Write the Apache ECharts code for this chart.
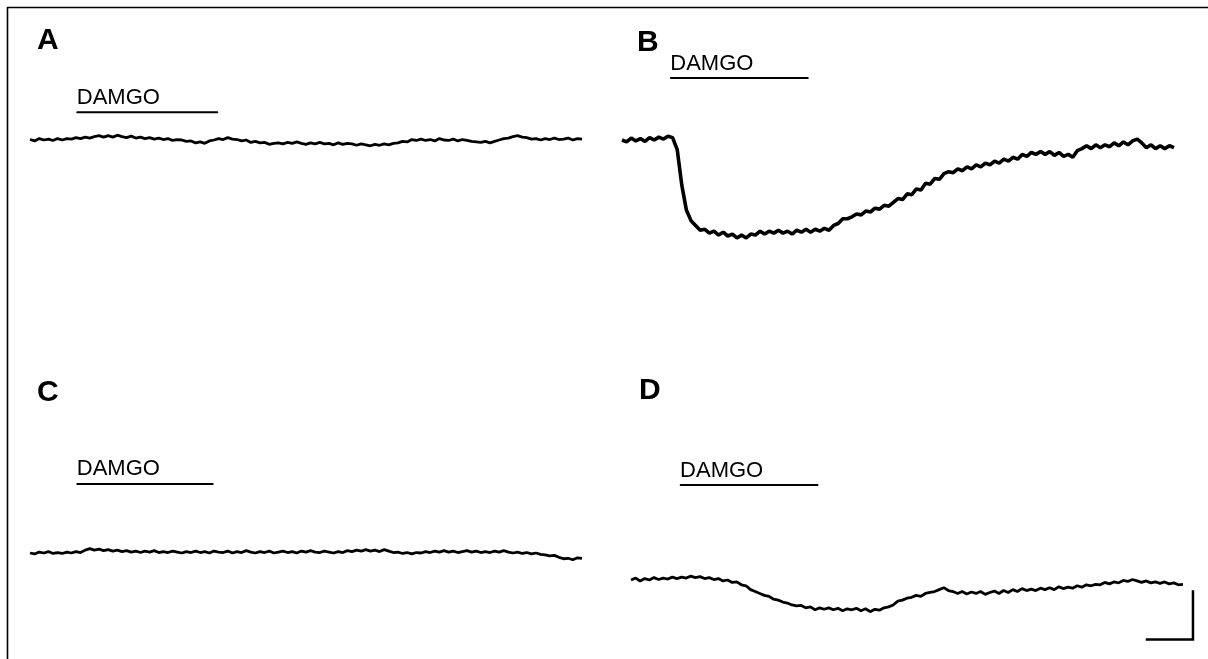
<!DOCTYPE html>
<html>
<head>
<meta charset="utf-8">
<script src="https://cdn.jsdelivr.net/npm/echarts@6/dist/echarts.min.js"></script>
<style>
  html, body { margin: 0; padding: 0; background: #fff; }
  #chart { width: 1208px; height: 659px; }
</style>
</head>
<body>
<div id="chart"></div>
<script>
// ---- data (time in s, sampled every 6 s; current in pA relative to baseline) ----
const sampleStep = 6;
const panelLabels = ['A', 'B', 'C', 'D'];
const drugName = 'DAMGO';
const damgoStart = [61, 63, 61, 64];
const damgoEnd = [245, 243, 239, 244];
const damgoLevel = [29, 64.5, 72, 99];

const traceA = [
  0.5, -1, 1.5, 0, 1, -0.5, 1.5,
  0, 1.5, 1, 2.5, 1.5, 3, 2, 3.5, 4.5, 3,
  4.5, 3, 5, 3.5, 2.5, 4, 2, 3, 1.5, 2.5,
  1, 2, 0.5, 1.5, -0.5, 0.5, 0,
  -1.5, -1, -3, -2, -3.5,
  -1, 0, 1.5, 0.5, 2.5,
  1, 0.5, -1, 0, -2.5, -1.5,
  -3, -2.5, -4.5, -3.5,
  -3, -4, -2.5, -3.5, -2, -3.5,
  -4.5, -3, -4, -2.5, -4, -3.5, -5, -3, -4.5, -3.5, -4,
  -5.5, -4, -5, -6, -4.5, -5.5, -4, -5,
  -3.5, -3, -1.5, -2, 0.5, -0.5,
  1, -0.5, 0.5, -1, 1.5, 0, -0.5, 1, -1, 0.5, -0.5,
  -1.5, -2, -2.5, -1.5, -3,
  -1.5, 0, 1.5, 2, 3.5, 4.5,
  3, 2.5, 1, 1.5,
  0, 1.5, 0.5, 2, 0.5, 1, 2, 0, 1.5, 1
];

const traceB = [
  0, -2, 2, -1, 1.5, -1.5, 2.5, 0, 3, 1, 4, 2.5,
  -10, -47, -73, -84, -89, -94, -93, -97, -95, -99,
  -96, -100, -98, -102, -99, -102, -98, -99, -95, -98,
  -95, -97, -94, -97, -95, -98, -94, -96, -93, -96,
  -93, -95, -92, -94, -89, -87, -82, -82, -80, -77,
  -78, -74, -75, -71, -72, -68, -69, -65, -61, -62,
  -56, -57, -51, -52, -45, -46, -40, -41, -35, -33,
  -34, -30, -32, -28, -30, -26, -28, -24, -26, -22,
  -24, -20, -22, -18, -20, -15, -17, -13, -15, -12,
  -15, -12, -16, -13, -17, -15, -18, -11, -9, -6,
  -9, -5, -8, -5, -7, -3, -6, -2, -5, -1,
  1, -3, -8, -5, -9, -6, -9, -6, -8
];

const traceC = [
  0, -1, 1, 0, 1.5, -0.5, 0.5, -0.5, 1, 0,
  1.5, 0.5, 3, 4.5, 3, 4, 2.5, 3.5, 2, 3,
  1.5, 2.5, 1, 2, 0.5, 2, 1, 2.5, 0.5, 1.5,
  0.5, 2, 1, 0, 1.5, 0.5, 2, 0.5, 1.5, 0,
  2, 1, 0.5, 2, 0, 1.5, 0.5, 2.5, 1, 0,
  1.5, 0.5, 2, 0, 1, 2, 0.5, 1.5, 0, 2,
  1, 2.5, 1, 0.5, 2, 1, 0, 1.5, 0.5, 2.5,
  1.5, 3, 2, 3.5, 2, 3, 1.5, 3.5, 2, 0.5,
  1, -0.5, 0.5, -1, 0.5, 0, 1.5, 0.5, 2, 1,
  2.5, 1, 2, 0.5, 1.5, 2.5, 1, 2, 0.5, 1.5,
  0.5, 2, 1, 2.5, 1, 0, 1, -0.5, 0.5, -1,
  0, -1.5, -2, -3, -2.5, -4.5, -6, -5.5, -7, -5, -5.5
];

const traceD = [
  0, 2, -1, 1.5, 0, 2.5, 0.5, 2, 1, 3,
  1.5, 3, 2, 4, 2.5, 3.5, 1.5, 2.5, 0.5, 1.5,
  -1, 0, -2.5, -2, -5, -6, -10, -12, -14, -16,
  -17, -20, -21, -23, -24, -26, -27, -26.5, -29, -28,
  -31, -29, -30.5, -29, -31, -29.5, -32, -30, -31, -29.5,
  -32, -30, -33, -30.5, -31.5, -29, -28, -26, -22, -21,
  -19, -18, -16, -17, -14, -13, -12, -10, -8, -11,
  -12, -14, -12, -14.5, -12.5, -14, -12, -15, -13, -11.5,
  -14, -11, -13, -10, -12, -9, -11, -9.5, -11, -8.5,
  -10, -8, -10, -7, -9, -7.5, -8.5, -6, -7.5, -5,
  -6, -4.5, -5, -2.5, -4, -2, -3, -0.5, -1.5, 0.5,
  -1, -2.5, -1, -3, -2, -3.5, -2, -4, -3, -5, -4.5
];

// scale bar: 60 s x 50 pA (drawn in panel D)
const scaleBarTime = [673, 733, 733];
const scaleBarCurrent = [-62, -62, -12];

const traces = [traceA, traceB, traceC, traceD];

// ---- layout ----
const xMax = 745;
const pxPerSec = 552 / 720;
const pxPerPA = 0.96;
const gridLeft = [30, 622, 30, 631];
const baselinePx = [140, 140, 553, 580];
const yMin = [-120, -120, -80, -80];
const yMax = 120;
const labelPos = [[37, 26], [637, 28], [37, 378], [639, 376]];
const traceWidth = [2.8, 3.6, 2.8, 2.8];
const font = 'Liberation Sans, Arial, Helvetica, sans-serif';

function toPairs(arr) { return arr.map((v, i) => [i * sampleStep, v]); }

const grids = [], xAxes = [], yAxes = [], series = [], titles = [];
for (let p = 0; p < 4; p++) {
  grids.push({
    left: gridLeft[p], top: baselinePx[p] - yMax * pxPerPA,
    width: xMax * pxPerSec, height: (yMax - yMin[p]) * pxPerPA
  });
  xAxes.push({ type: 'value', gridIndex: p, min: 0, max: xMax, show: false });
  yAxes.push({ type: 'value', gridIndex: p, min: yMin[p], max: yMax, show: false });
  titles.push({
    text: panelLabels[p], left: labelPos[p][0], top: labelPos[p][1], padding: 0,
    textStyle: { fontSize: 30, fontWeight: 'bold', fontFamily: font, color: '#000' }
  });
  series.push({
    type: 'line', xAxisIndex: p, yAxisIndex: p, data: toPairs(traces[p]),
    showSymbol: false, symbol: 'none', silent: true,
    lineStyle: { color: '#000', width: traceWidth[p] }
  });
  series.push({
    type: 'line', xAxisIndex: p, yAxisIndex: p, silent: true,
    symbol: 'circle', symbolSize: 1, showSymbol: true,
    itemStyle: { color: '#000' },
    lineStyle: { color: '#000', width: 2 },
    data: [
      { value: [damgoStart[p], damgoLevel[p]],
        label: { show: true, formatter: drugName, position: 'top', align: 'left', distance: 3,
                 fontSize: 22, fontFamily: font, color: '#000' } },
      { value: [damgoEnd[p], damgoLevel[p]] }
    ]
  });
}
series.push({
  type: 'line', xAxisIndex: 3, yAxisIndex: 3, silent: true, showSymbol: false, symbol: 'none',
  lineStyle: { color: '#000', width: 2.5, cap: 'square', join: 'miter' },
  data: scaleBarTime.map((t, i) => [t, scaleBarCurrent[i]])
});

const chart = echarts.init(document.getElementById('chart'), null, { renderer: 'canvas' });
chart.setOption({
  animation: false,
  backgroundColor: '#fff',
  title: titles,
  grid: grids,
  xAxis: xAxes,
  yAxis: yAxes,
  series: series,
  graphic: [
    { type: 'line', shape: { x1: 7, y1: 7.5, x2: 1208, y2: 7.5 }, style: { stroke: '#000', lineWidth: 1.6 } },
    { type: 'line', shape: { x1: 7.5, y1: 7, x2: 7.5, y2: 659 }, style: { stroke: '#000', lineWidth: 1.6 } }
  ]
});
</script>
</body>
</html>
